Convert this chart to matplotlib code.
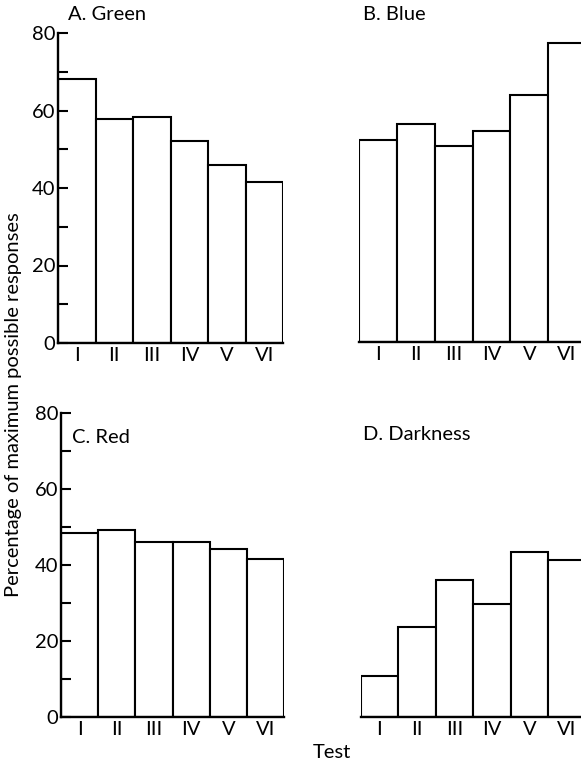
import numpy as np
import matplotlib
matplotlib.use("Agg")
import matplotlib.pyplot as plt

plt.rcParams['font.family'] = ['Lato', 'DejaVu Sans']

tests = ['I', 'II', 'III', 'IV', 'V', 'VI']
green = [68.2, 57.7, 58.3, 52.1, 46.0, 41.5]
blue = [52.1, 56.3, 50.6, 54.4, 63.7, 77.1]
red = [48.4, 49.1, 46.1, 46.0, 44.2, 41.6]
darkness = [10.8, 23.7, 36.1, 29.7, 43.5, 41.3]

W, H = 581, 762
FS = 14.5
fig = plt.figure(figsize=(W / 100, H / 100), dpi=100)

def px_axes(x0, y0, x1, y1):
    # pixel box (left, top of ylim 80, right, baseline) -> figure fraction
    return fig.add_axes([x0 / W, 1 - y1 / H, (x1 - x0) / W, (y1 - y0) / H])

panels = [
    (green, (58, 33, 283.3, 343), True, 'A. Green', (68, 15)),
    (blue, (359.3, 32, 586, 341.7), False, 'B. Blue', (363, 15)),
    (red, (61, 413.3, 284.3, 716.7), True, 'C. Red', (72, 437)),
    (darkness, (360.7, 413.3, 585.7, 716.7), False, 'D. Darkness', (363, 435)),
]

x = np.arange(len(tests)) + 0.5
for vals, box, show_y, title, tpos in panels:
    ax = px_axes(*box)
    ax.bar(x, vals, width=1.0, color='white', edgecolor='black', linewidth=1.5)
    ax.set_xlim(0, 6)
    ax.set_ylim(0, 80)
    ax.set_xticks(x)
    ax.set_xticklabels(tests, fontsize=FS)
    ax.tick_params(axis='x', length=0, pad=3)
    ax.spines['top'].set_visible(False)
    ax.spines['right'].set_visible(False)
    ax.spines['bottom'].set_linewidth(1.7)
    if show_y:
        ax.spines['left'].set_linewidth(1.7)
        ax.set_yticks([0, 20, 40, 60, 80])
        ax.set_yticks([10, 30, 50, 70], minor=True)
        ax.tick_params(axis='y', which='major', direction='in', length=7, width=1.5,
                       labelsize=FS, pad=2)
        ax.tick_params(axis='y', which='minor', direction='in', length=7, width=1.5)
    else:
        ax.spines['left'].set_visible(False)
        ax.set_yticks([])
    ax.patch.set_alpha(0)
    fig.text(tpos[0] / W, 1 - tpos[1] / H, title, fontsize=FS, va='center', ha='left')

fig.text(14 / W, 1 - 405 / H, 'Percentage of maximum possible responses', rotation=90,
         fontsize=FS, va='center', ha='center')
fig.text(332 / W, 1 - 752 / H, 'Test', fontsize=FS, va='center', ha='center')

fig.savefig('out.png', dpi=100)
